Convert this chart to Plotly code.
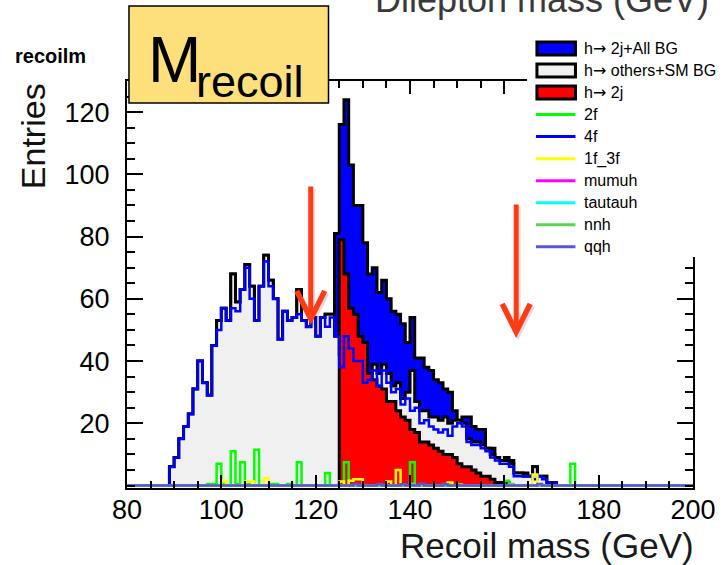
import plotly.graph_objects as go

# ---------------- data (1 GeV bins, 80..200) ----------------
bin_lo = list(range(80, 200))

h2j_allbg = [0, 0, 0, 0, 0, 0, 0, 0, 0, 6,
             9, 15, 19, 23, 31, 40, 33, 29, 45, 53,
             57, 53, 68, 59, 63, 71, 64, 53, 64, 74,
             66, 60, 47, 56, 53, 54, 63, 53, 51, 54,
             48, 54, 55, 55, 81, 116, 124, 103, 90, 90,
             78, 68, 70, 62, 66, 60, 56, 55, 52, 46,
             54, 41, 41, 38, 37, 34, 33, 31, 30, 24,
             21, 22, 22, 19, 18, 18, 12, 12, 9, 8,
             9, 8, 4, 4, 4, 3, 6, 3, 3, 1,
             1, 0, 0, 0, 0, 0, 0, 0, 0, 0,
             0, 0, 0, 0, 0, 0, 0, 0, 0, 0,
             0, 0, 0, 0, 0, 0, 0, 0, 0, 0]

hothers_smbg = [0, 0, 0, 0, 0, 0, 0, 0, 0, 6,
                9, 15, 19, 23, 31, 40, 33, 29, 45, 53,
                57, 53, 68, 59, 63, 71, 64, 53, 64, 74,
                66, 60, 47, 56, 53, 54, 63, 53, 51, 54,
                48, 54, 55, 55, 48, 42, 50, 47, 45, 42,
                38, 36, 39, 36, 39, 36, 32, 33, 28, 30,
                37, 27, 24, 24, 22, 22, 21, 22, 20, 21,
                21, 20, 15, 14, 14, 13, 12, 10, 9, 8,
                8, 7, 4, 4, 3, 3, 6, 3, 3, 1,
                1, 0, 0, 0, 0, 0, 0, 0, 0, 0,
                0, 0, 0, 0, 0, 0, 0, 0, 0, 0,
                0, 0, 0, 0, 0, 0, 0, 0, 0, 0]

h2j = [0, 0, 0, 0, 0, 0, 0, 0, 0, 0,
       0, 0, 0, 0, 0, 0, 0, 0, 0, 0,
       0, 0, 0, 0, 0, 0, 0, 0, 0, 0,
       0, 0, 0, 0, 0, 0, 0, 0, 0, 0,
       0, 0, 0, 0, 0, 79, 68, 57, 55, 48,
       46, 36, 34, 32, 31, 27, 27, 24, 22, 21,
       18, 17, 14, 14, 13, 12, 11, 10, 10, 9,
       7, 6, 6, 5, 4, 3, 3, 2, 1, 1,
       1, 0, 0, 0, 0, 0, 0, 0, 0, 0,
       0, 0, 0, 0, 0, 0, 0, 0, 0, 0,
       0, 0, 0, 0, 0, 0, 0, 0, 0, 0,
       0, 0, 0, 0, 0, 0, 0, 0, 0, 0]

bg_2f = [0, 0, 0, 0, 0, 0, 0, 0, 0, 0,
         0, 0, 0, 0, 0, 0, 0, 0.5, 0.5, 7,
         0.5, 0, 11, 0.5, 7.5, 0.5, 0, 11.5, 0, 0,
         0.5, 0.5, 0, 0, 0.5, 0, 7.5, 0, 0, 0,
         0, 0, 4, 0, 0, 0, 7.5, 0, 0, 0,
         0, 0, 0, 0, 0, 0, 0, 0, 0, 0,
         7.5, 0, 0, 0, 0, 0, 0, 0.5, 0, 0,
         0, 0, 0, 0, 0, 0, 0, 0, 0, 0,
         1.5, 0, 0, 0, 0, 0, 0, 0, 0, 0,
         0, 0, 0, 0, 7, 0, 0, 0, 0, 0,
         0, 0, 0, 0, 0, 0, 0, 0, 0, 0,
         0, 0, 0, 0, 0, 0, 0, 0, 0, 0]

bg_4f = [0, 0, 0, 0, 0, 0, 0, 0, 0, 6,
         9, 15, 19, 23, 31, 40, 33, 29, 45, 50,
         57, 53, 57, 56, 63, 70, 60, 53, 64, 72,
         64, 60, 47, 56, 53, 54, 55, 53, 51, 54,
         48, 54, 51, 54, 48, 38, 48, 44, 40, 40,
         33, 34, 37, 32, 37, 33, 30, 31, 26, 28,
         24, 25, 20, 21, 19, 18, 17, 18, 16, 19,
         20, 19, 14, 13, 13, 12, 11, 9, 8, 7,
         7, 6, 3, 3, 3, 3, 2, 3, 2, 1,
         1, 0, 0, 0, 0, 0, 0, 0, 0, 0,
         0, 0, 0, 0, 0, 0, 0, 0, 0, 0,
         0, 0, 0, 0, 0, 0, 0, 0, 0, 0]

bg_1f3f = [0, 0, 0, 0, 0, 0, 0, 0, 0, 0,
           0, 0, 0, 0, 0, 0, 0, 0, 0, 0,
           1.5, 0, 0, 0, 0, 1.3, 1.3, 0, 0, 2.3,
           0, 0, 0, 0, 0, 0, 0, 0, 0, 0,
           0, 0, 0, 0, 0, 1.3, 0, 1.5, 2, 2,
           0, 0, 0, 0, 0, 1.3, 0, 5, 0, 0,
           0, 0, 0, 0, 0, 0, 0, 0, 1, 0,
           0, 0, 0, 0, 0, 0, 0, 0, 0, 0,
           0, 0, 0, 0, 0, 0, 3.5, 0, 0, 0,
           0, 0, 0, 0, 0, 0, 0, 0, 0, 0,
           0, 0, 0, 0, 0, 0, 0, 0, 0, 0,
           0, 0, 0, 0, 0, 0, 0, 0, 0, 0]

sig_mumuh = [0] * 120
sig_tautauh = [0] * 120

sig_nnh = [0, 0, 0, 0, 0, 0, 0, 0, 0, 0,
           0, 0, 0, 0, 0, 0, 0, 0, 0, 0,
           0, 0, 0, 0, 0, 0, 0, 0, 0, 0,
           0, 0, 0, 0, 0, 0, 0, 0, 0, 0,
           0, 0, 0, 0, 0, 0, 0, 0, 0, 0,
           0, 0, 0, 0, 0, 0, 0, 0, 0, 0,
           0.6, 0, 0, 0, 0, 0, 0, 0, 0, 0,
           0.4, 0, 0, 0, 0, 0, 0, 0, 0, 0,
           0, 0.5, 0, 0, 0, 0, 0, 0, 0, 0,
           0, 0, 0, 0, 0, 0, 0, 0, 0, 0,
           0, 0, 0, 0, 0, 0, 0, 0, 0, 0,
           0, 0, 0, 0, 0, 0, 0, 0, 0, 0]

sig_qqh = [0, 0, 0, 0, 0, 0, 0, 0, 0, 0,
           0, 0, 0, 0, 0, 0, 0, 0, 0, 0,
           0, 0, 0, 0, 0, 0, 0, 0, 0, 0,
           0, 0, 0, 0, 0, 0, 0, 0, 0, 0,
           0, 0, 0, 0, 0, 0, 0, 0, 0.5, 0,
           0, 0, 0, 0.5, 0, 0, 0, 0, 0.4, 0,
           0, 0, 0.6, 0, 0, 0, 0, 0.4, 0, 0,
           0, 0, 0, 0, 0, 0, 0, 0, 0, 0,
           0, 0, 0, 0, 0, 0, 0, 0.5, 0, 0,
           0, 0, 0, 0, 0, 0, 0, 0, 0, 0,
           0, 0, 0, 0, 0, 0, 0, 0, 0, 0,
           0, 0, 0, 0, 0, 0, 0, 0, 0, 0]

x_ticks = [80, 100, 120, 140, 160, 180, 200]
y_ticks = [20, 40, 60, 80, 100, 120]

ARROW = "<span style='font-family:DejaVu Sans'>\u2192</span>"
legend_entries = [
    ("h" + ARROW + " 2j+All BG", "box", "#0000ff"),
    ("h" + ARROW + " others+SM BG", "box", "#f0f0f0"),
    ("h" + ARROW + " 2j", "box", "#ff0000"),
    ("2f", "line", "#00ff00"),
    ("4f", "line", "#0000ff"),
    ("1f_3f", "line", "#ffff00"),
    ("mumuh", "line", "#ff00ff"),
    ("tautauh", "line", "#00ffff"),
    ("nnh", "line", "#59d454"),
    ("qqh", "line", "#5954d9"),
]

# ---------------- figure ----------------
W, H = 728, 565
L, R, T, B = 127, 28, 81, 77
PW, PH = W - L - R, H - T - B


def px(xp):
    return (xp - L) / PW


def py(yp):
    return (T + PH - yp) / PH


edges = bin_lo + [200]


def step_y(v):
    return list(v) + [v[-1]]


fig = go.Figure()

for vals, fillc in [(h2j_allbg, "#0000ff"), (hothers_smbg, "#f0f0f0"), (h2j, "#ff0000")]:
    fig.add_trace(go.Scatter(x=edges, y=step_y(vals), mode="lines", line_shape="hv",
                             fill="tozeroy", fillcolor=fillc,
                             line=dict(color="black", width=3), showlegend=False,
                             hoverinfo="skip"))

for vals, col in [(bg_2f, "#00ff00"), (bg_4f, "#0000ff"), (bg_1f3f, "#ffff00"),
                  (sig_mumuh, "#ff00ff"), (sig_tautauh, "#00ffff"),
                  (sig_nnh, "#59d454"), (sig_qqh, "#5954d9")]:
    fig.add_trace(go.Scatter(x=edges, y=step_y(vals), mode="lines", line_shape="hv",
                             line=dict(color=col, width=2.5), showlegend=False,
                             hoverinfo="skip"))

shapes = []
annotations = []

# legend background (covers the frame at top right)
shapes.append(dict(type="rect", xref="paper", yref="paper", x0=px(532), x1=px(728),
                   y0=py(257), y1=py(28), fillcolor="white", line=dict(width=0), layer="above"))
for k, (name, kind, col) in enumerate(legend_entries):
    cy = 48.5 + 22.03 * k
    if kind == "box":
        shapes.append(dict(type="rect", xref="paper", yref="paper", x0=px(542), x1=px(581),
                           y0=py(cy + 6.5), y1=py(cy - 6.5), fillcolor=col,
                           line=dict(color="black", width=3), layer="above"))
    else:
        shapes.append(dict(type="line", xref="paper", yref="paper", x0=px(541), x1=px(581),
                           y0=py(cy), y1=py(cy), line=dict(color=col, width=3), layer="above"))
    annotations.append(dict(text=name, xref="paper", yref="paper", x=px(588), y=py(cy),
                            xanchor="left", yanchor="middle", showarrow=False,
                            font=dict(family="Liberation Sans, Arial", size=16, color="black")))

# title box
shapes.append(dict(type="rect", xref="paper", yref="paper", x0=px(129), x1=px(331),
                   y0=py(103), y1=py(6), fillcolor="#fde07c",
                   line=dict(color="black", width=1.5), layer="above"))
annotations.append(dict(text="M", xref="paper", yref="paper", x=px(146), y=py(60),
                        xanchor="left", yanchor="middle", showarrow=False,
                        font=dict(family="Liberation Sans, Arial", size=64, color="black")))
annotations.append(dict(text="recoil", xref="paper", yref="paper", x=px(195), y=py(81),
                        xanchor="left", yanchor="middle", showarrow=False,
                        font=dict(family="Liberation Sans, Arial", size=45, color="black")))

# histogram name
annotations.append(dict(text="<b>recoilm</b>", xref="paper", yref="paper", x=px(12), y=py(56),
                        xanchor="left", yanchor="middle", showarrow=False,
                        font=dict(family="Liberation Sans, Arial", size=20, color="black")))

# axis titles
annotations.append(dict(text="Entries", xref="paper", yref="paper", x=px(32), y=py(136),
                        xanchor="center", yanchor="middle", textangle=-90, showarrow=False,
                        font=dict(family="Liberation Sans, Arial", size=34, color="#111111")))
annotations.append(dict(text="Recoil mass (GeV)", xref="paper", yref="paper", x=px(703), y=py(545),
                        xanchor="right", yanchor="middle", showarrow=False,
                        font=dict(family="Liberation Sans, Arial", size=35, color="#1a1a1a")))
annotations.append(dict(text="Dilepton mass (GeV)", xref="paper", yref="paper", x=px(718), y=py(-1),
                        xanchor="right", yanchor="middle", showarrow=False,
                        font=dict(family="Liberation Sans, Arial", size=36, color="#3a3a3a")))

# red arrows (with faint shadow)
for tipx, tipy, length in [(313, 325, 140), (521, 338, 135)]:
    annotations.append(dict(text="", xref="paper", yref="paper", x=px(tipx + 2), y=py(tipy + 2),
                            ax=0, ay=-length, showarrow=True, arrowhead=5, arrowsize=1.1,
                            arrowwidth=5, arrowcolor="rgba(0,0,0,0.13)", standoff=0))
    annotations.append(dict(text="", xref="paper", yref="paper", x=px(tipx), y=py(tipy),
                            ax=0, ay=-length, showarrow=True, arrowhead=5, arrowsize=1.1,
                            arrowwidth=5, arrowcolor="#ff3a17", standoff=0))

tickfont = dict(family="Liberation Sans, Arial", size=27, color="black")
fig.update_layout(
    width=W, height=H,
    margin=dict(l=L, r=R, t=T, b=B, pad=0),
    paper_bgcolor="white", plot_bgcolor="white",
    shapes=shapes, annotations=annotations,
    showlegend=False,
    xaxis=dict(range=[80, 200], tickmode="array", tickvals=x_ticks,
               ticks="inside", ticklen=13, tickwidth=2, tickcolor="black",
               minor=dict(tickmode="linear", tick0=80, dtick=5, ticks="inside", ticklen=7,
                          tickwidth=2, tickcolor="black", showgrid=False),
               showline=True, linecolor="black", linewidth=2, mirror="ticks",
               showgrid=False, zeroline=False, tickfont=tickfont, ticklabelstandoff=-3),
    yaxis=dict(range=[-0.8, 130], tickmode="array", tickvals=y_ticks,
               ticks="inside", ticklen=16, tickwidth=2, tickcolor="black",
               minor=dict(tickmode="linear", tick0=0, dtick=5, ticks="inside", ticklen=8,
                          tickwidth=2, tickcolor="black", showgrid=False),
               showline=True, linecolor="black", linewidth=2, mirror="ticks",
               showgrid=False, zeroline=False, tickfont=tickfont, ticklabelstandoff=10),
)

fig.write_html("out.html")
